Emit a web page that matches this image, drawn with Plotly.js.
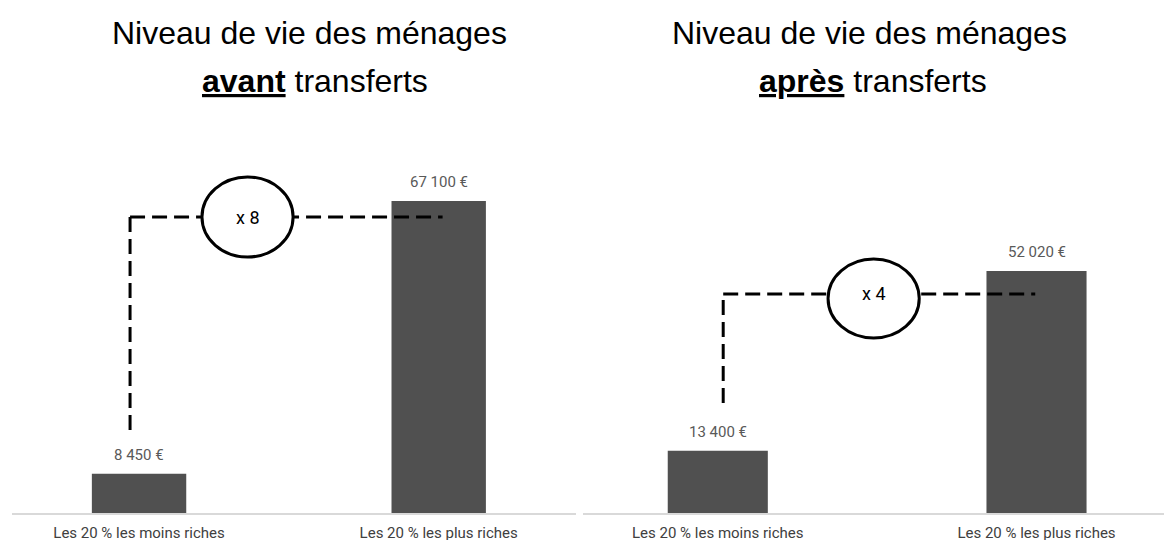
<!DOCTYPE html>
<html>
<head>
<meta charset="utf-8">
<script src="https://cdn.plot.ly/plotly-3.0.1.min.js"></script>
<style>html,body{margin:0;padding:0;background:#fff;}#chart{width:1164px;height:540px;}</style>
</head>
<body>
<div id="chart"></div>
<script>
// ---- data ----
const categories = ["Les 20 % les moins riches", "Les 20 % les plus riches"];
const avantValues = [8450, 67100];
const apresValues = [13400, 52020];
const titleLine1 = "Niveau de vie des ménages";
const titleAvant = "<u><b>avant</b></u> transferts";
const titleApres = "<u><b>après</b></u> transferts";

function fmtEuro(v) {
  return String(v).replace(/\B(?=(\d{3})+(?!\d))/g, " ") + " €";
}

const barColor = "#505050";
const smallFont = "Roboto, 'Liberation Sans', sans-serif";
const titleFont = "'Liberation Sans', Arial, sans-serif";

const traces = [
  { type: "bar", x: [0, 1], y: avantValues, xaxis: "x", yaxis: "y",
    width: 0.315, marker: { color: barColor }, hoverinfo: "skip", showlegend: false },
  { type: "bar", x: [0, 1], y: apresValues, xaxis: "x2", yaxis: "y2",
    width: 0.314, marker: { color: barColor }, hoverinfo: "skip", showlegend: false }
];

const annotations = [];
function valueLabels(vals, xr, yr) {
  vals.forEach((v, i) => annotations.push({
    x: i, y: v, xref: xr, yref: yr, yshift: 19, showarrow: false,
    text: fmtEuro(v), font: { family: smallFont, size: 15, color: "#595959" }
  }));
}
valueLabels(avantValues, "x", "y");
valueLabels(apresValues, "x2", "y2");

// titles
function titleAnn(text, x, y, size) {
  annotations.push({ text: text, xref: "paper", yref: "paper", x: x, y: y,
    xanchor: "center", yanchor: "middle", showarrow: false,
    font: { family: titleFont, size: size, color: "#000" } });
}
titleAnn(titleLine1, 0.2663, 1.290, 32);
titleAnn(titleAvant, 0.2702, 1.160, 32);
titleAnn(titleLine1, 0.7466, 1.290, 32);
titleAnn(titleApres, 0.7496, 1.160, 32);

// ratio bubbles
const shapes = [];
function ratioConnector(vals, xr, yr, cfg) {
  const ratio = Math.round(vals[1] / vals[0]);
  const line = { color: "#000", width: 3, dash: "15px,7px" };
  shapes.push({ type: "line", xref: xr, yref: yr, x0: cfg.xv, x1: cfg.xv, y0: cfg.yBottom, y1: cfg.yLevel, line: line });
  shapes.push({ type: "line", xref: xr, yref: yr, x0: cfg.xv, x1: cfg.xEnd, y0: cfg.yLevel, y1: cfg.yLevel, line: line });
  shapes.push({ type: "circle", xref: xr, yref: yr, x0: cfg.ex0, x1: cfg.ex1, y0: cfg.ey0, y1: cfg.ey1,
    fillcolor: "#fff", line: { color: "#000", width: 3 } });
  annotations.push({ x: (cfg.ex0 + cfg.ex1) / 2, y: cfg.yLevel, xref: xr, yref: yr, showarrow: false,
    text: "x " + ratio, font: { family: smallFont, size: 18, color: "#000" } });
}
ratioConnector(avantValues, "x", "y",
  { xv: -0.03, xEnd: 1.013, yBottom: 17850, yLevel: 63650, ex0: 0.21, ex1: 0.514, ey0: 55050, ey1: 72260 });
ratioConnector(apresValues, "x2", "y2",
  { xv: 0.017, xEnd: 0.996, yBottom: 23650, yLevel: 47100, ex0: 0.346, ex1: 0.632, ey0: 37630, ey1: 54620 });

const xCommon = {
  type: "linear", tickvals: [0, 1], ticktext: categories, ticks: "",
  showline: true, linecolor: "#d9d9d9", linewidth: 1.5, showgrid: false, zeroline: false,
  ticklabelstandoff: 5,
  tickfont: { family: smallFont, size: 15, color: "#404040" }, fixedrange: true
};
const yCommon = { range: [0, 80000], visible: false, showgrid: false, zeroline: false, fixedrange: true };

const layout = {
  width: 1164, height: 540,
  margin: { l: 0, r: 0, t: 141, b: 27, pad: 0 },
  paper_bgcolor: "#fff", plot_bgcolor: "#fff",
  showlegend: false,
  xaxis: Object.assign({}, xCommon, { domain: [0.01005, 0.4948], range: [-0.425, 1.458], anchor: "y" }),
  yaxis: Object.assign({}, yCommon, { domain: [0, 1], anchor: "x" }),
  xaxis2: Object.assign({}, xCommon, { domain: [0.5011, 1], range: [-0.422, 1.400], anchor: "y2" }),
  yaxis2: Object.assign({}, yCommon, { domain: [0, 1], anchor: "x2" }),
  annotations: annotations,
  shapes: shapes
};

Plotly.newPlot("chart", traces, layout, { staticPlot: true, displayModeBar: false });
</script>
</body>
</html>
